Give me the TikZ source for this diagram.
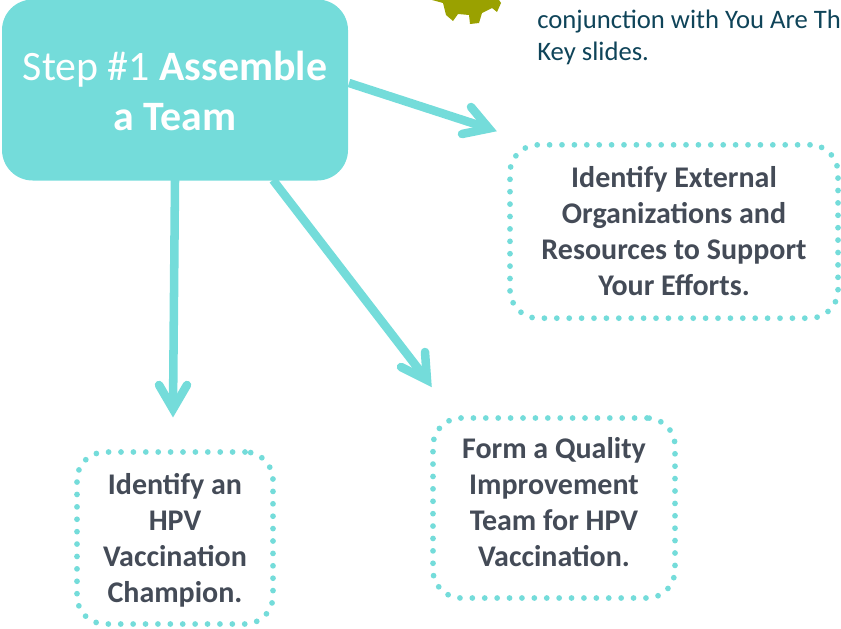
\documentclass[tikz,border=0pt]{standalone}
\usepackage{fontspec}
\setmainfont{Carlito}
\definecolor{teal1}{HTML}{74DCDA}
\definecolor{slate}{HTML}{444B57}
\definecolor{navy}{HTML}{0F4459}
\definecolor{olive}{HTML}{9AA100}
\tikzset{
 x=0.75pt,y=-0.75pt,
 head/.style={rounded corners=23pt,fill=teal1,minimum width=259.5pt,minimum height=135.75pt,inner sep=0pt,align=center,text=white,font=\fontsize{31.4pt}{37.5pt}\selectfont},
 goal/.style={draw=teal1,line width=4.3pt,line cap=round,dash pattern=on 0pt off 9.3pt,rounded corners=21pt,inner sep=0pt,align=center,text=slate,font=\fontsize{22.5pt}{27pt}\selectfont\bfseries},
 conn/.style={draw=teal1,line width=6.4pt},
 headtip/.style={draw=teal1,line width=6.4pt,line cap=round,line join=miter},
 side/.style={anchor=base west,inner sep=0pt,text=navy,font=\fontsize{20pt}{24pt}\selectfont}
}
\begin{document}
\begin{tikzpicture}
\useasboundingbox (0,0) rectangle (841,628);
\node[head] (team) at (175,90) {\rule{0pt}{23pt}Step \#1 \textbf{Assemble}\\\textbf{a Team}};
\node[goal,minimum width=246pt,minimum height=130pt] (ext) at (674,231.5) {Identify External\\Organizations and\\Resources to Support\\Your Efforts.};
\node[goal,minimum width=181.5pt,minimum height=135pt] (qi) at (554,508) {Form a Quality\\Improvement\\Team for HPV\\Vaccination.\\[-18pt]\mbox{}};
\node[goal,minimum width=147pt,minimum height=129pt] (champ) at (175,538) {\rule{0pt}{19.5pt}Identify an\\HPV\\Vaccination\\Champion.};
\coordinate (t1) at (489,128.5);
\coordinate (t2) at (427,380);
\coordinate (t3) at (173,409);
\coordinate (s1) at (349,83);
\coordinate (s2) at (273,180);
\coordinate (s3) at (175,180);
\draw[conn] (s1) -- (t1);
\draw[conn] (s2) -- (t2);
\draw[conn] (s3) -- (t3);
\draw[headtip] (471,107) -- (t1) -- (462,134);
\draw[headtip] (425,352) -- (t2) -- (401,367);
\draw[headtip] (159,385) -- (t3) -- (187,385);
\fill[olive] (432,0) -- (443,3) -- (446,15) -- (453,21) -- (458,14) -- (469,15) -- (470,24) -- (479,23) -- (482,13) -- (492,8) -- (497,12) -- (501,3) -- (499,0) -- (478,0) arc[start angle=0,end angle=-180,x radius=11,y radius=2.5] -- cycle;
\node[side] (l1) at (537,28) {conjunction with You Are Th};
\node[side] (l2) at (537,60) {Key slides.};
\end{tikzpicture}
\end{document}
